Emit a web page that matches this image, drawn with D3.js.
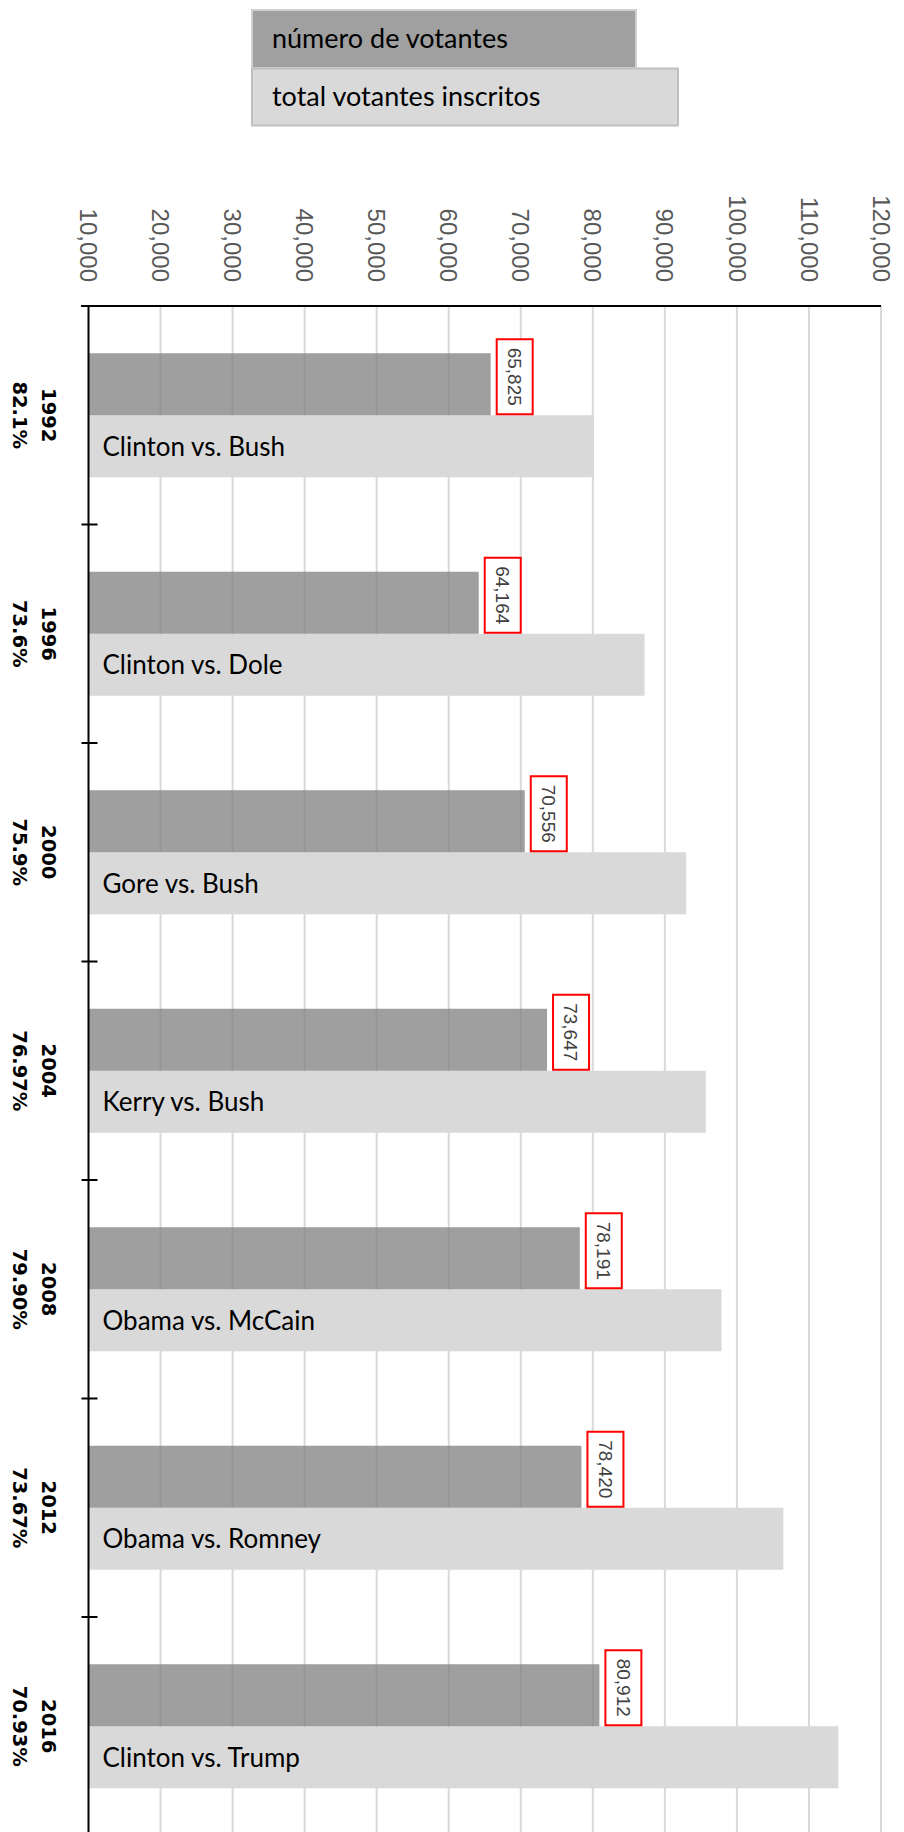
<!DOCTYPE html>
<html>
<head>
<meta charset="utf-8">
<script src="https://cdn.jsdelivr.net/npm/d3@7"></script>
<style>
body { margin: 0; background: #fff; }
</style>
</head>
<body>
<svg id="chart" width="904" height="1832"></svg>
<script>
// datos
var years = ['1992', '1996', '2000', '2004', '2008', '2012', '2016'];
var turnout = ['82.1%', '73.6%', '75.9%', '76.97%', '79.90%', '73.67%', '70.93%'];
var races = ['Clinton vs. Bush', 'Clinton vs. Dole', 'Gore vs. Bush', 'Kerry vs. Bush',
	'Obama vs. McCain', 'Obama vs. Romney', 'Clinton vs. Trump'];
var votantes = [65825, 64164, 70556, 73647, 78191, 78420, 80912];
var inscritos = [80177, 87179, 92959, 95683, 97861, 106448, 114074];
var ticks = [10000, 20000, 30000, 40000, 50000, 60000, 70000, 80000, 90000, 100000, 110000, 120000];
var seriesNames = ['número de votantes', 'total votantes inscritos'];

var svg = d3.select('#chart');
var top0 = 306;
var step = 218.5;

var x = d3.scaleLinear().domain([10000, 120000]).range([88.5, 881]);
var y = d3.scaleBand().domain(years).range([top0, top0 + step * 7]);
var sub = d3.scaleBand().domain(['n', 't']).range([0, y.bandwidth()]).paddingOuter(0.762);

var fmt = d3.format(',');
var narrow = 'Lato, "Open Sans", sans-serif';

// legend
var leg = svg.append('g');
leg.append('rect').attr('x', 252).attr('y', 10).attr('width', 384).attr('height', 58)
	.style('fill', '#a0a0a0').style('stroke', '#d0d0d0').style('stroke-width', 2);
leg.append('rect').attr('x', 252).attr('y', 68.5).attr('width', 426).attr('height', 57)
	.style('fill', '#d9d9d9').style('stroke', '#bfbfbf').style('stroke-width', 2);
leg.selectAll('text.leg').data(seriesNames).enter().append('text')
	.attr('class', 'leg')
	.attr('x', 272)
	.attr('y', function(d, i) { return 48 + i * 58; })
	.text(function(d) { return d; })
	.style('font-family', narrow)
	.style('font-size', '27px')
	.style('fill', '#000');

// gridlines
svg.append('g').selectAll('line').data(ticks.slice(1)).enter().append('line')
	.attr('x1', function(d) { return x(d); })
	.attr('x2', function(d) { return x(d); })
	.attr('y1', top0).attr('y2', 1832)
	.style('stroke', '#d9d9d9').style('stroke-width', 2);

// tick labels
svg.append('g').selectAll('text').data(ticks).enter().append('text')
	.attr('transform', function(d) { return 'translate(' + x(d) + ',282) rotate(90)'; })
	.attr('dy', '0.35em')
	.style('text-anchor', 'end')
	.style('font-family', 'Liberation Sans')
	.style('font-size', '24px')
	.style('fill', '#595959')
	.text(function(d) { return fmt(d); });

// bars
var g = svg.append('g');
years.forEach(function(yr, i) {
	g.append('rect')
		.attr('x', x(10000)).attr('y', y(yr) + sub('t'))
		.attr('width', x(inscritos[i]) - x(10000)).attr('height', sub.bandwidth())
		.style('fill', '#d9d9d9');
	g.append('rect')
		.attr('x', x(10000)).attr('y', y(yr) + sub('n'))
		.attr('width', x(votantes[i]) - x(10000)).attr('height', sub.bandwidth())
		.style('fill', '#7f7f7f').style('fill-opacity', 0.75);
	// race name
	g.append('text')
		.attr('x', x(10000) + 14)
		.attr('y', y(yr) + sub('t') + sub.bandwidth() / 2)
		.attr('dy', '0.36em')
		.style('font-family', narrow)
		.style('font-size', '26px')
		.style('fill', '#000')
		.text(races[i]);
	// data label box
	var bx = x(votantes[i]) + 6, by = y(yr) + sub('n') + sub.bandwidth();
	g.append('rect')
		.attr('x', bx).attr('y', by - 76)
		.attr('width', 36).attr('height', 75)
		.style('fill', '#fff').style('stroke', '#ff0000').style('stroke-width', 2);
	g.append('text')
		.attr('transform', 'translate(' + (bx + 18) + ',' + (by - 38.5) + ') rotate(90)')
		.attr('dy', '0.35em')
		.style('text-anchor', 'middle')
		.style('font-family', 'Liberation Sans')
		.style('font-size', '19px')
		.style('fill', '#404040')
		.text(fmt(votantes[i]));
	// category labels
	var cy = y(yr) + y.bandwidth() / 2;
	g.append('text')
		.attr('transform', 'translate(49,' + cy + ') rotate(90)')
		.attr('dy', '0.36em')
		.style('text-anchor', 'middle')
		.style('font-family', 'DejaVu Sans')
		.style('font-weight', 'bold')
		.style('font-size', '19.5px')
		.style('fill', '#000')
		.text(yr);
	g.append('text')
		.attr('transform', 'translate(20,' + cy + ') rotate(90)')
		.attr('dy', '0.36em')
		.style('text-anchor', 'middle')
		.style('font-family', 'DejaVu Sans')
		.style('font-weight', 'bold')
		.style('font-size', '19.5px')
		.style('fill', '#000')
		.text(turnout[i]);
});

// axes lines
svg.append('line').attr('x1', 81).attr('x2', 881).attr('y1', top0).attr('y2', top0)
	.style('stroke', '#000').style('stroke-width', 2);
svg.append('line').attr('x1', x(10000)).attr('x2', x(10000)).attr('y1', top0).attr('y2', 1832)
	.style('stroke', '#000').style('stroke-width', 2);
svg.append('g').selectAll('line').data(years.slice(1)).enter().append('line')
	.attr('x1', x(10000) - 7).attr('x2', x(10000) + 9)
	.attr('y1', function(d) { return y(d); })
	.attr('y2', function(d) { return y(d); })
	.style('stroke', '#000').style('stroke-width', 2);
</script>
</body>
</html>
